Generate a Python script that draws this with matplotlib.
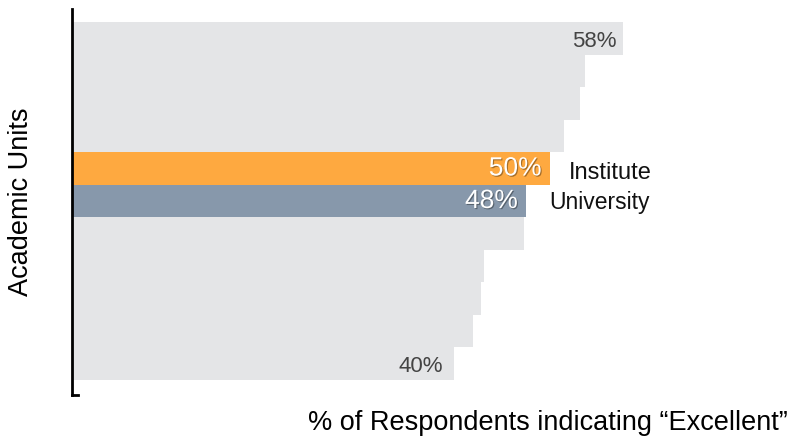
import matplotlib
matplotlib.use("Agg")
import matplotlib.pyplot as plt
import matplotlib.patheffects as pe

plt.rcParams["font.family"] = ["Liberation Sans", "DejaVu Sans"]

# data: one bar per academic unit, top to bottom
values = [58.0, 54.0, 53.5, 51.8, 50.3, 47.8, 47.6, 43.4, 43.1, 42.2, 40.2]
highlight = {4: "Institute", 5: "University"}
edge_labels = [0, 10]

GRAY = "#E4E5E7"
ORANGE = "#FEA940"
SLATE = "#8798AB"
colors = {"Institute": ORANGE, "University": SLATE}

fig = plt.figure(figsize=(7.92, 4.41), dpi=100)
ax = fig.add_axes([72 / 792, 1 - 395 / 441, 712.5 / 792, 386 / 441])

ys = list(range(len(values)))
bar_colors = [colors.get(highlight.get(i), GRAY) for i in ys]
ax.barh(ys, values, height=1.0, color=bar_colors, edgecolor="none")

ax.set_xlim(0, 75)
ax.set_ylim(10.96, -0.90)

# end labels on the plain bars
for i in edge_labels:
    ax.annotate(f"{values[i]:.0f}%", xy=(values[i], i), xytext=(-4.5 if i == 0 else -7.5, -2),
                textcoords="offset points", ha="right", va="center",
                fontsize=16, color="#444444")

# highlighted bars: white value inside, name outside
shadow = [pe.SimplePatchShadow(offset=(0.8, -0.8), shadow_rgbFace="black", alpha=0.35),
          pe.Normal()]
name_offset = {"Institute": (14, -3), "University": (17, -1)}
name_size = {"Institute": 17, "University": 16.5}
for i, name in highlight.items():
    ax.annotate(f"{values[i]:.0f}%", xy=(values[i], i), xytext=(-6, 0),
                textcoords="offset points", ha="right", va="center",
                fontsize=19, color="white", path_effects=shadow)
    ax.annotate(name, xy=(values[i], i), xytext=name_offset[name],
                textcoords="offset points", ha="left", va="center",
                fontsize=name_size[name], color="#111111")

for side in ["top", "right"]:
    ax.spines[side].set_visible(False)
ax.spines["left"].set_linewidth(2)
ax.spines["bottom"].set_linewidth(2)
ax.spines["bottom"].set_bounds(0, 0.6)
ax.set_xticks([])
ax.set_yticks([])

fig.text(21 / 792, 1 - 202 / 441, "Academic Units", rotation=90,
         ha="center", va="center", fontsize=19.5)
fig.text(788 / 792, 1 - 430 / 441, "% of Respondents indicating \u201cExcellent\u201d",
         ha="right", va="baseline", fontsize=19.5)

fig.savefig("out.png", dpi=100)
